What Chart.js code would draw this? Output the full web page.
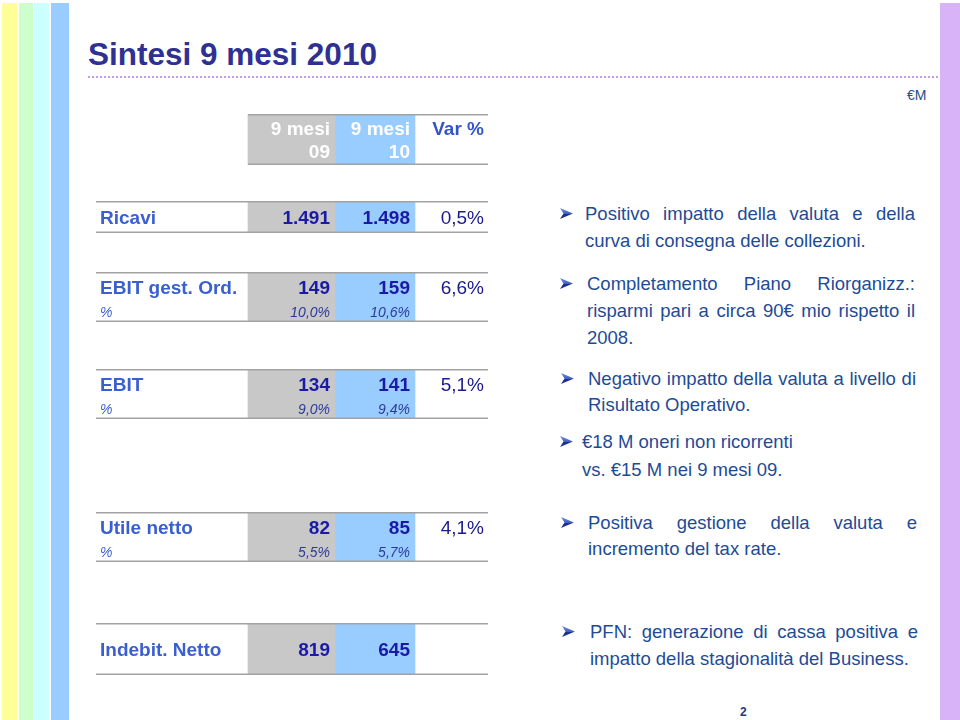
<!DOCTYPE html>
<html><head><meta charset="utf-8">
<script src="https://cdn.jsdelivr.net/npm/chart.js@4.4.1/dist/chart.umd.min.js"></script>
<style>
html,body{margin:0;padding:0;background:#fff}
body{width:960px;height:720px;position:relative;overflow:hidden;font-family:"Liberation Sans",Arial,sans-serif}
.stripe{position:absolute;top:3px;bottom:0}
#title{position:absolute;left:88px;top:39px;font-size:31.5px;line-height:31px;font-weight:bold;color:#2e3192;white-space:nowrap}
#dots{position:absolute;left:88px;top:76px;width:850px;height:0;border-top:2px dotted #c79be6}
#unit{position:absolute;left:907px;top:88px;font-size:14px;line-height:14px;color:#2a4a8a}
#page{position:absolute;left:740px;top:706px;font-size:12px;line-height:12px;font-weight:bold;color:#1f3a7a}
.bl{position:absolute;font-size:18.5px;line-height:27px;color:#1e4b96}
.bl.j{text-align:justify;text-align-last:justify}
.arr{position:absolute;width:13px;height:11px}
canvas.row{position:absolute;left:96px}
</style>
</head><body>
<div class="stripe" style="left:2px;width:15px;background:#ffff99"></div>
<div class="stripe" style="left:19px;width:14px;background:#ccffcc"></div>
<div class="stripe" style="left:34px;width:15px;background:#ccffff"></div>
<div class="stripe" style="left:51px;width:18px;background:#99ccff"></div>
<div class="stripe" style="left:940px;width:20px;background:#d9b3f7"></div>
<div id="title">Sintesi 9 mesi 2010</div>
<div id="dots"></div>
<div id="unit">€M</div>
<div id="page">2</div>
<svg width="0" height="0" style="position:absolute"><defs>
<linearGradient id="ag" x1="0" y1="0" x2="0" y2="1">
<stop offset="0" stop-color="#6f8fe0"/><stop offset="0.5" stop-color="#4060c0"/><stop offset="0.51" stop-color="#1c2f8a"/><stop offset="1" stop-color="#22348f"/>
</linearGradient></defs></svg>
<div id="bullets"></div>
<div id="table"></div>
<script>
// ---- data ----
const columnHeaders = [['', ''], ['9 mesi', '09'], ['9 mesi', '10'], ['Var %', '']];
const rowLabels = ['Ricavi', 'EBIT gest. Ord.', 'EBIT', 'Utile netto', 'Indebit. Netto'];
const subLabels = ['', '%', '%', '%', ''];
const values09 = [1491, 149, 134, 82, 819];
const values10 = [1498, 159, 141, 85, 645];
const margin09 = [null, 10.0, 9.0, 5.5, null];
const margin10 = [null, 10.6, 9.4, 5.7, null];
const varPct = [0.5, 6.6, 5.1, 4.1, null];
const bulletLines = [
  ['Positivo impatto della valuta e della', 'curva di consegna delle collezioni.'],
  ['Completamento Piano Riorganizz.:', 'risparmi pari a circa 90€ mio rispetto il', '2008.'],
  ['Negativo impatto della valuta a livello di', 'Risultato Operativo.'],
  ['€18 M oneri non ricorrenti', 'vs. €15 M nei 9 mesi 09.'],
  ['Positiva gestione della valuta e', 'incremento del tax rate.'],
  ['PFN: generazione di cassa positiva e', 'impatto della stagionalità del Business.']
];
const bulletJustified = [true, true, true, false, true, true];

// ---- layout (positions / sizes / styles) ----
const colWidths = [152, 87, 80, 73];
const rowTops = [114, 201, 272, 369, 512, 623];      // header first
const rowHeights = [51, 32, 50, 50, 50, 52];
const cellFill = ['rgba(0,0,0,0)', '#c8c8c8', '#99ccff', 'rgba(0,0,0,0)'];
const bulletLeft = [585, 587, 588, 582, 588, 590];
const bulletRight = [915, 915, 916, 915, 917, 918];
const arrowLeft = [560, 560, 561, 560, 561, 562];
const bulletBaselines = [[220, 246.5], [290, 317, 344], [385, 411], [448, 476], [529, 555], [638, 665]];

const FONT = '"Liberation Sans", Arial, sans-serif';
const fmtInt = v => String(v).replace(/\B(?=(\d{3})+(?!\d))/g, '.');
const fmtPct = v => v == null ? '' : v.toFixed(1).replace('.', ',') + '%';

// ---- bullets (HTML text) ----
const bwrap = document.getElementById('bullets');
const NS = 'http://www.w3.org/2000/svg';
bulletLines.forEach((lines, b) => {
  const a = document.createElementNS(NS, 'svg');
  a.setAttribute('class', 'arr');
  a.setAttribute('viewBox', '0 0 13 11');
  a.style.left = arrowLeft[b] + 'px';
  a.style.top = (bulletBaselines[b][0] - 12) + 'px';
  const p = document.createElementNS(NS, 'polygon');
  p.setAttribute('points', '0,0 13,5.5 0,11 3.5,5.5');
  p.setAttribute('fill', 'url(#ag)');
  a.appendChild(p);
  bwrap.appendChild(a);
  lines.forEach((txt, i) => {
    const d = document.createElement('div');
    d.className = 'bl' + (bulletJustified[b] && i < lines.length - 1 ? ' j' : '');
    d.textContent = txt;
    d.style.left = bulletLeft[b] + 'px';
    d.style.width = (bulletRight[b] - bulletLeft[b]) + 'px';
    d.style.top = (bulletBaselines[b][i] - 20) + 'px';
    bwrap.appendChild(d);
  });
});

// ---- table drawn with Chart.js (stacked horizontal bars = cells) ----
const tablePlugin = {
  id: 'tableText',
  afterDatasetsDraw(chart, args, opts) {
    const { ctx, chartArea } = chart;
    const r = opts.row;
    const top = chartArea.top, bottom = chartArea.bottom, h = bottom - top;
    const cells = chart.data.datasets.map((d, i) => {
      const el = chart.getDatasetMeta(i).data[0];
      return { left: Math.min(el.x, el.base), right: Math.max(el.x, el.base) };
    });
    ctx.save();
    ctx.strokeStyle = '#a2a2a2';
    ctx.lineWidth = 1.6;
    const ls = r < 0 ? cells[1].left : cells[0].left;
    const le = cells[3].right;
    [top + 0.8, bottom - 0.8].forEach(y => {
      ctx.beginPath(); ctx.moveTo(ls, y); ctx.lineTo(le, y); ctx.stroke();
    });
    ctx.textBaseline = 'alphabetic';
    if (r < 0) {
      columnHeaders.forEach((lines, c) => {
        ctx.font = 'bold 19px ' + FONT;
        ctx.fillStyle = c === 3 ? '#3355cc' : '#ffffff';
        ctx.textAlign = 'right';
        const x = cells[c].right - (c === 3 ? 4 : 5);
        if (lines[0]) ctx.fillText(lines[0], x, top + 21);
        if (lines[1]) ctx.fillText(lines[1], x, top + 44);
      });
    } else {
      const hasSub = !!subLabels[r];
      const yMain = hasSub ? top + 22 : top + h / 2 + 7;
      const ySub = top + 45;
      ctx.textAlign = 'left';
      ctx.font = 'bold 19px ' + FONT;
      ctx.fillStyle = '#3a5fd0';
      ctx.fillText(rowLabels[r], cells[0].left + 4, yMain);
      if (hasSub) {
        ctx.font = 'italic 14px ' + FONT;
        ctx.fillText(subLabels[r], cells[0].left + 4, ySub);
      }
      ctx.textAlign = 'right';
      [[values09, margin09, 1], [values10, margin10, 2]].forEach(([vals, margs, c]) => {
        ctx.font = 'bold 19px ' + FONT;
        ctx.fillStyle = '#1a1aa6';
        ctx.fillText(fmtInt(vals[r]), cells[c].right - 5, yMain);
        if (margs[r] != null) {
          ctx.font = 'italic 14px ' + FONT;
          ctx.fillStyle = '#2b3a9a';
          ctx.fillText(fmtPct(margs[r]), cells[c].right - 5, ySub);
        }
      });
      if (varPct[r] != null) {
        ctx.font = '19px ' + FONT;
        ctx.fillStyle = '#1a1a8c';
        ctx.fillText(fmtPct(varPct[r]), cells[3].right - 4, yMain);
      }
    }
    ctx.restore();
  }
};

const twrap = document.getElementById('table');
const totalW = colWidths.reduce((a, b) => a + b, 0);
rowTops.forEach((t, k) => {
  const r = k - 1; // -1 = header
  const cv = document.createElement('canvas');
  cv.className = 'row';
  cv.width = totalW;
  cv.height = rowHeights[k];
  cv.style.top = t + 'px';
  twrap.appendChild(cv);
  new Chart(cv, {
    type: 'bar',
    data: {
      labels: [r < 0 ? 'header' : rowLabels[r]],
      datasets: colWidths.map((w, i) => ({
        data: [w],
        backgroundColor: cellFill[i],
        borderWidth: 0,
        barPercentage: 1,
        categoryPercentage: 1
      }))
    },
    options: {
      indexAxis: 'y',
      responsive: false,
      animation: false,
      events: [],
      layout: { padding: 0 },
      scales: {
        x: { stacked: true, display: false, min: 0, max: totalW },
        y: { stacked: true, display: false }
      },
      plugins: { legend: { display: false }, tooltip: { enabled: false }, tableText: { row: r } }
    },
    plugins: [tablePlugin]
  });
});
</script>
</body></html>
